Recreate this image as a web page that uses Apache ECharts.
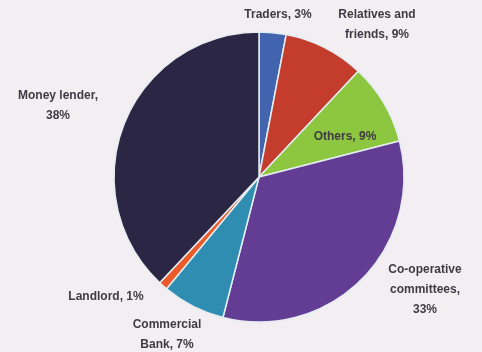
<!DOCTYPE html>
<html>
<head>
<meta charset="utf-8">
<script src="https://cdn.jsdelivr.net/npm/echarts@6/dist/echarts.min.js"></script>
<style>
  html, body { margin: 0; padding: 0; background: #f3eef2; }
  #chart { width: 482px; height: 352px; }
</style>
</head>
<body>
<div id="chart"></div>
<script>
  // sources of credit, clockwise from 12 o'clock
  var sources = ['Traders', 'Relatives and friends', 'Others', 'Co-operative committees', 'Commercial Bank', 'Landlord', 'Money lender'];
  var shares = [3, 9, 9, 33, 7, 1, 38];
  var colors = ['#4263ad', '#c43d2c', '#8dc63f', '#633d93', '#2e8db0', '#ec5a2a', '#2a2644'];

  // how each label breaks into lines, and where its block sits
  var labelLines = {
    'Traders': function (v) { return 'Traders, ' + v + '%'; },
    'Relatives and friends': function (v) { return 'Relatives and\nfriends, ' + v + '%'; },
    'Others': function (v) { return 'Others, ' + v + '%'; },
    'Co-operative committees': function (v) { return 'Co-operative\ncommittees,\n' + v + '%'; },
    'Commercial Bank': function (v) { return 'Commercial\nBank, ' + v + '%'; },
    'Landlord': function (v) { return 'Landlord, ' + v + '%'; },
    'Money lender': function (v) { return 'Money lender,\n' + v + '%'; }
  };
  var labelSpots = [[278, 15], [377, 25], [345, 137], [425, 290], [167, 335], [106, 297], [58, 106]];

  var chart = echarts.init(document.getElementById('chart'));

  var data = sources.map(function (name, i) {
    var item = { name: name, value: shares[i], itemStyle: { color: colors[i] } };
    if (name === 'Others') item.label = { position: 'inside' };
    return item;
  });

  chart.setOption({
    backgroundColor: '#f3eef2',
    animation: false,
    series: [{
      type: 'pie',
      center: [259, 177],
      radius: [0, 145],
      startAngle: 90,
      clockwise: true,
      itemStyle: {
        borderColor: '#e4edf2',
        borderWidth: 1.5
      },
      label: {
        show: true,
        overflow: 'none',
        edgeDistance: 0,
        formatter: function (p) { return labelLines[p.name](p.value); },
        fontFamily: 'Liberation Sans',
        fontWeight: 'bold',
        fontSize: 12,
        lineHeight: 20,
        color: '#403a46'
      },
      labelLine: { show: false },
      labelLayout: function (p) {
        var s = labelSpots[p.dataIndex];
        return { x: s[0], y: s[1], align: 'center', verticalAlign: 'middle' };
      },
      data: data
    }]
  });
</script>
</body>
</html>
